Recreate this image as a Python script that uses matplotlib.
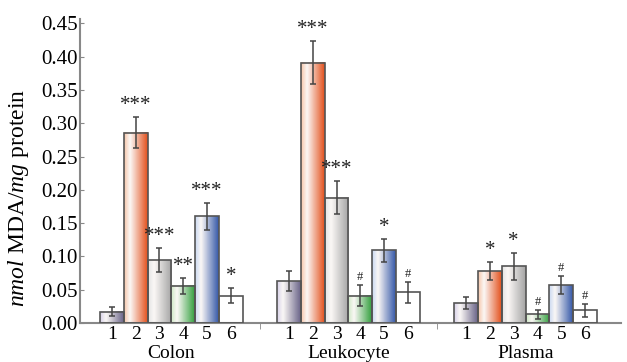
import numpy as np
import matplotlib
matplotlib.use("Agg")
import matplotlib.pyplot as plt
from matplotlib.colors import LinearSegmentedColormap

plt.rcParams['font.family'] = 'Liberation Serif'
plt.rcParams['mathtext.fontset'] = 'custom'
plt.rcParams['mathtext.rm'] = 'Liberation Serif'
plt.rcParams['mathtext.it'] = 'Liberation Serif:italic'

groups = ["Colon", "Leukocyte", "Plasma"]
bar_labels = ["1", "2", "3", "4", "5", "6"]

colon = [0.017, 0.286, 0.094, 0.056, 0.160, 0.041]
colon_err = [0.007, 0.023, 0.018, 0.012, 0.020, 0.011]
leuko = [0.063, 0.391, 0.188, 0.041, 0.109, 0.046]
leuko_err = [0.015, 0.032, 0.025, 0.016, 0.017, 0.016]
plasma = [0.030, 0.078, 0.085, 0.013, 0.057, 0.019]
plasma_err = [0.009, 0.014, 0.020, 0.007, 0.014, 0.010]

colon_sig = ["", "***", "***", "**", "***", "*"]
leuko_sig = ["", "***", "***", "#", "*", "#"]
plasma_sig = ["", "*", "*", "#", "#", "#"]

# (light, dark) per bar
bar_colors = [("#d8d2ea", "#6a6488"),
              ("#f7c6aa", "#e3501c"),
              ("#e4e4e4", "#a4a4a4"),
              ("#cfe9c6", "#35a040"),
              ("#c9d8f2", "#3558a8"),
              ("#ffffff", "#ffffff")]

values = [colon, leuko, plasma]
errors = [colon_err, leuko_err, plasma_err]
sigs = [colon_sig, leuko_sig, plasma_sig]

fig = plt.figure(figsize=(6.27, 3.62), dpi=100)
ax = fig.add_axes([0.128, 0.108, 0.862, 0.84])

spacing = 7.45
grad = np.linspace(0, 1, 64).reshape(1, -1)
xticks, xlabels = [], []
for g in range(3):
    for i in range(6):
        x = g * spacing + i
        v = values[g][i]
        e = errors[g][i]
        light, dark = bar_colors[i]
        cmap = LinearSegmentedColormap.from_list(
            "c", [(0, light), (0.25, "#fbf8f6"), (1, dark)])
        if i == 5:
            cmap = LinearSegmentedColormap.from_list("c", ["#ffffff", "#ffffff"])
        ax.imshow(grad, extent=[x - 0.5, x + 0.5, 0, v], aspect="auto",
                  cmap=cmap, zorder=2, interpolation="bilinear")
        ax.add_patch(plt.Rectangle((x - 0.5, 0), 1, v, fill=False,
                                   edgecolor="#555555", lw=1.2, zorder=3))
        ax.errorbar(x, v, yerr=e, color="#444444", lw=1.1, capsize=2.5,
                    capthick=1.1, zorder=4)
        s = sigs[g][i]
        if s:
            fs = 9 if s == "#" else 15
            ax.text(x, v + e + 0.003, s, ha="center", va="bottom",
                    fontsize=fs, color="#222222", zorder=5)
        xticks.append(x)
        xlabels.append(bar_labels[i])
    ax.text(g * spacing + 2.5, -0.0335, groups[g], ha="center", va="top",
            fontsize=14)

ax.set_xlim(-1.33, 21.4)
ax.set_ylim(0, 0.457)
ax.set_xticks(xticks)
ax.set_xticklabels(xlabels, fontsize=14)
ax.tick_params(axis="x", length=0, pad=2)
ax.set_xticks([5.5 + (spacing - 6) / 2, spacing + 5.5 + (spacing - 6) / 2], minor=True)
ax.tick_params(axis="x", which="minor", length=4, direction="out", color="#888888")
ax.set_yticks(np.arange(0, 0.451, 0.05))
ax.set_yticklabels([f"{t:.2f}" for t in np.arange(0, 0.451, 0.05)], fontsize=15)
ax.tick_params(axis="y", length=3, direction="in", color="#888888", pad=2)
for sp in ["top", "right"]:
    ax.spines[sp].set_visible(False)
for sp in ["left", "bottom"]:
    ax.spines[sp].set_color("#888888")
    ax.spines[sp].set_linewidth(1.5)
ax.set_ylabel(r"$\mathit{nmol}$ MDA/$\mathit{mg}$ protein", fontsize=17)
ax.yaxis.set_label_coords(-0.092, 0.41)

fig.savefig("out.png", dpi=100)
